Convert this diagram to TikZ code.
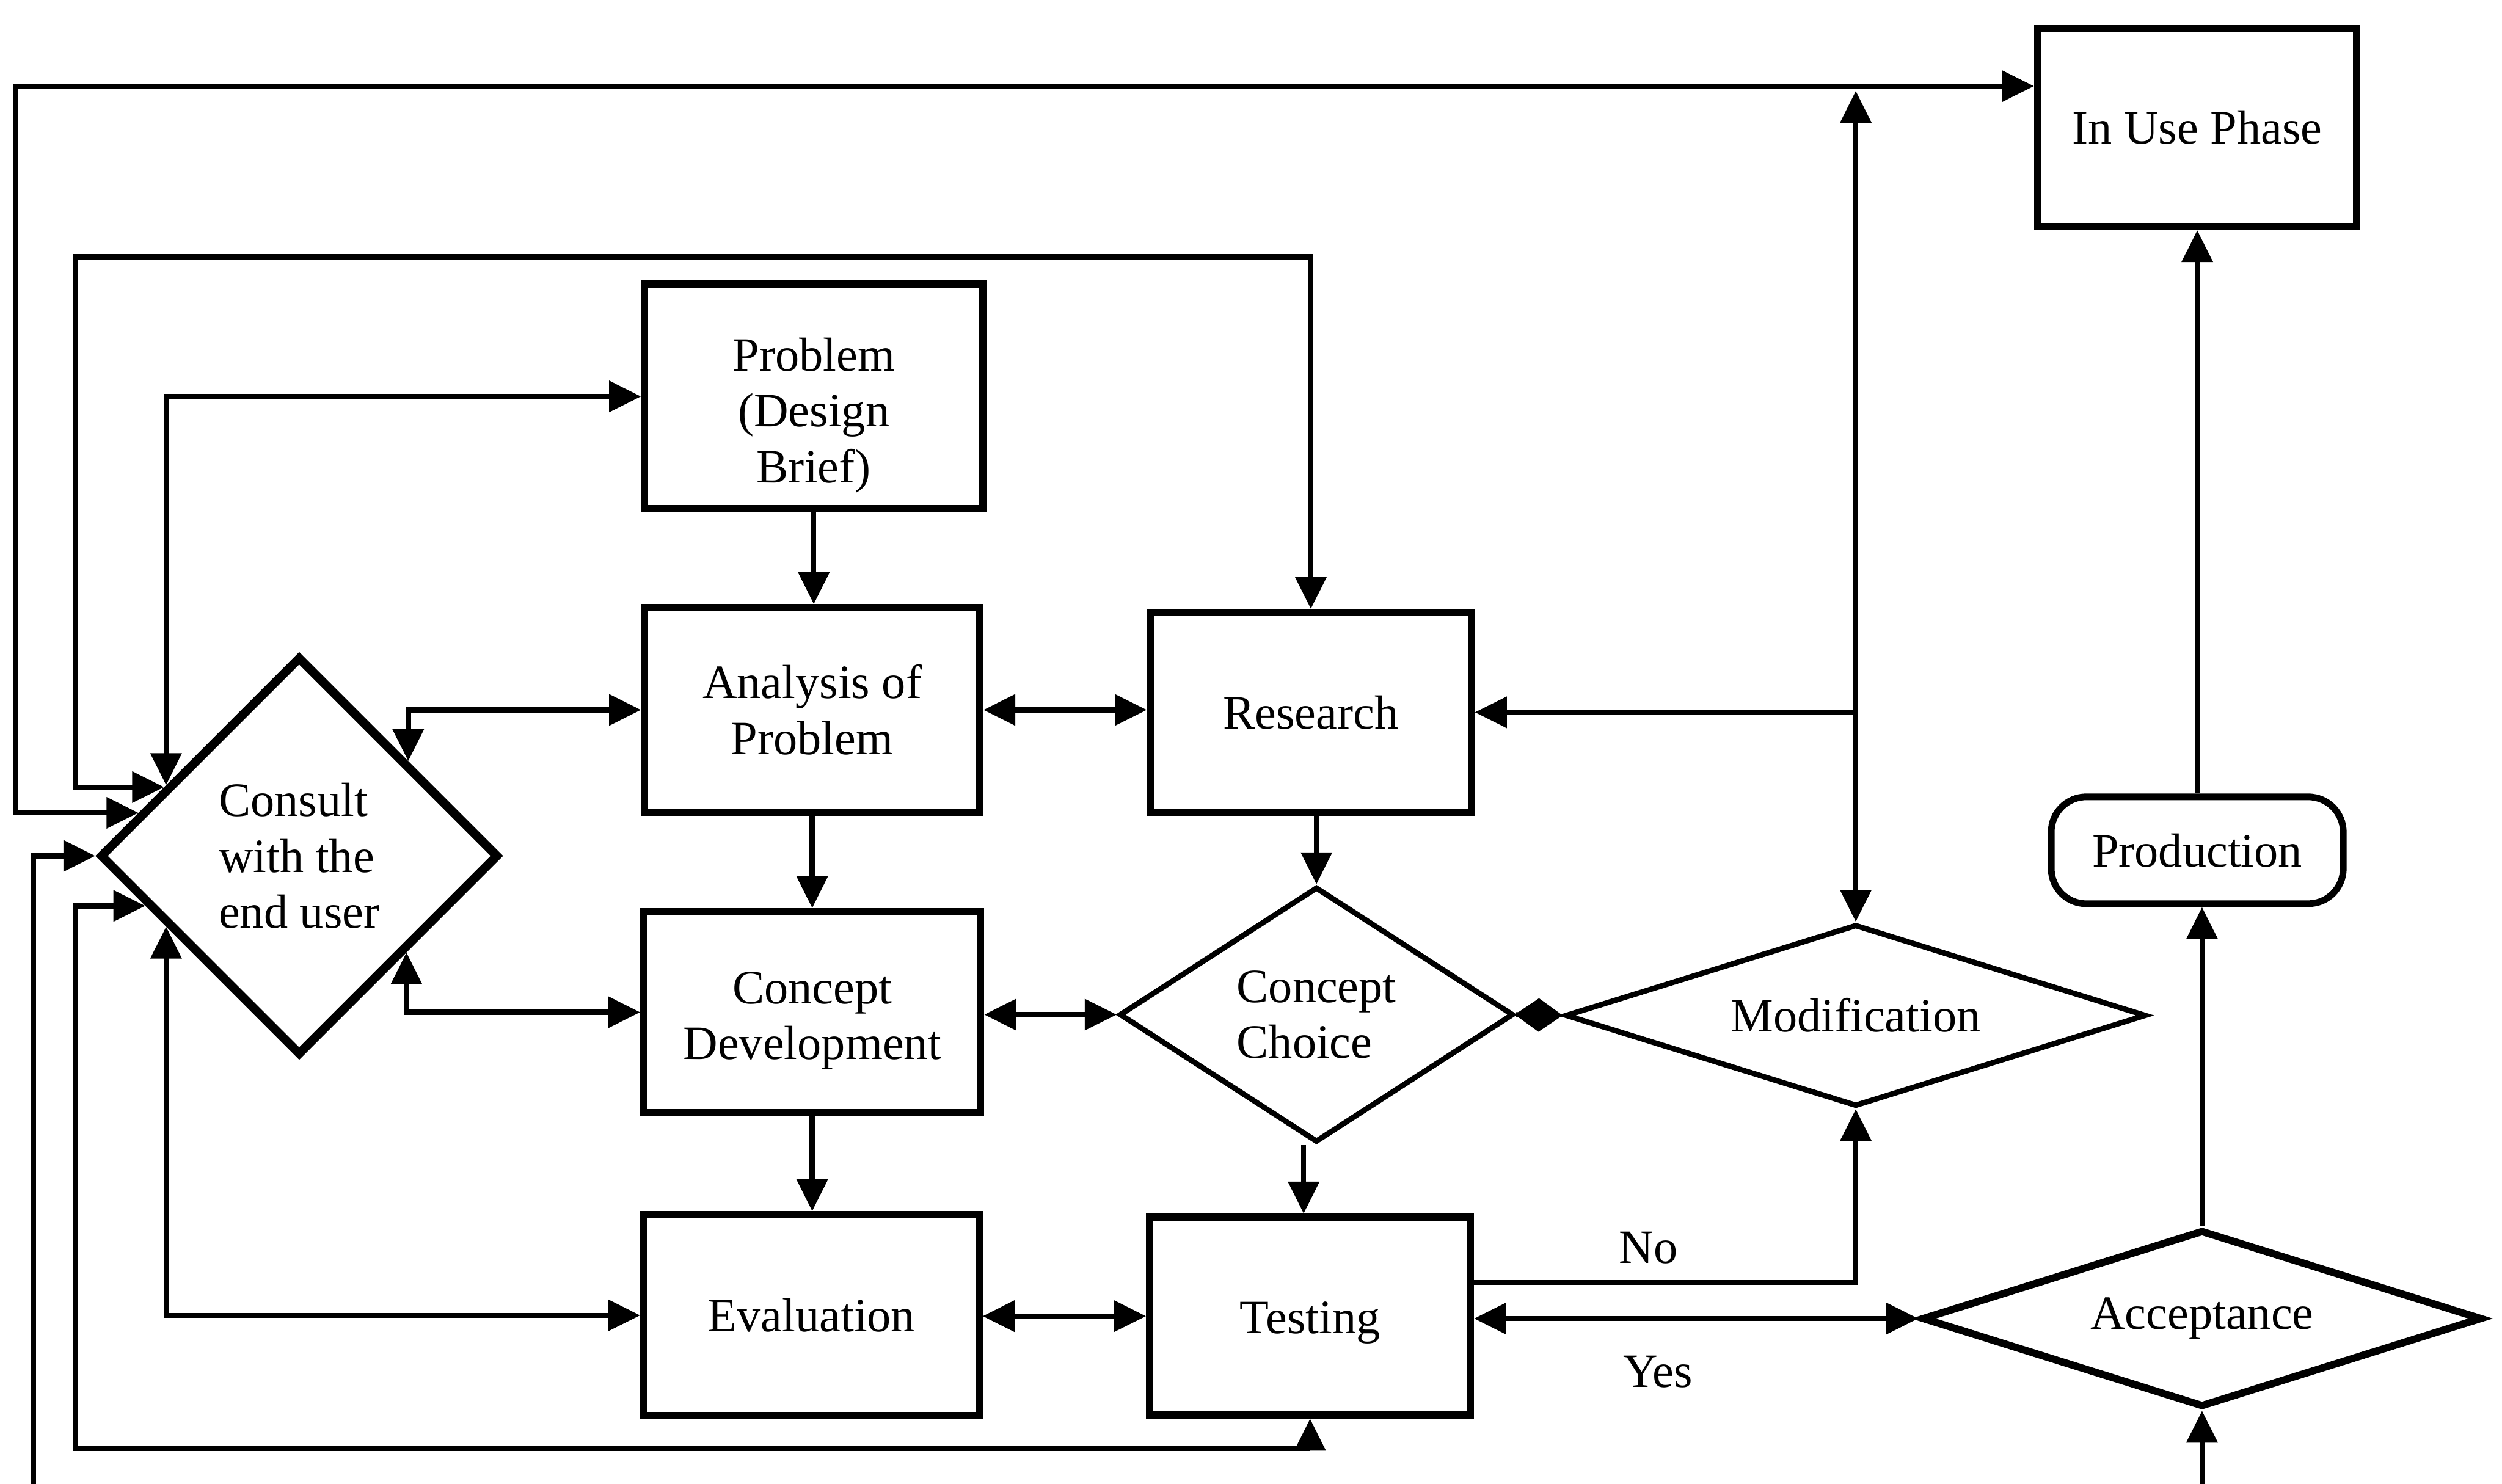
\documentclass[tikz,border=0pt]{standalone}
\usepackage{fontspec}
\setmainfont{Liberation Serif}
\usetikzlibrary{arrows.meta,shapes.geometric}
\begin{document}
\begin{tikzpicture}[x=1pt,y=-1pt,
  >={Triangle[length=20pt,width=19pt]},
  every node/.style={font=\fontsize{30}{35}\selectfont, align=center, inner sep=0pt},
  box/.style={draw, rectangle, line width=4.6pt},
  dia/.style={draw, diamond, line width=3.4pt},
  conn/.style={line width=3.2pt},
]
\useasboundingbox (0,0) rectangle (1568,930);

% process boxes
\node[box, minimum width=212pt, minimum height=141pt] (prob) at (510,248.5)
  {\raisebox{-12pt}[\height][\depth]{\begin{tabular}{@{}c@{}}Problem\\(Design\\Brief)\end{tabular}}};
\node[box, minimum width=210pt, minimum height=128pt] (anal) at (509,445) {Analysis of\\Problem};
\node[box, minimum width=201pt, minimum height=125pt] (res) at (821.5,446.5) {Research};
\node[box, minimum width=211pt, minimum height=126pt] (cdev) at (509,634.5)
  {\raisebox{-5pt}[\height][\depth]{\begin{tabular}{@{}c@{}}Concept\\Development\end{tabular}}};
\node[box, minimum width=210pt, minimum height=126pt] (eval) at (508.5,824.5) {Evaluation};
\node[box, minimum width=201pt, minimum height=124pt] (test) at (821,825) {\raisebox{-4pt}[\height][\depth]{Testing}};
\node[box, minimum width=200pt, minimum height=124pt] (inuse) at (1377,80) {In Use Phase};
\node[box, rounded corners=22pt, line width=4.2pt, minimum width=183pt, minimum height=67pt] (prod) at (1377,533) {Production};

% decisions
\node[dia, line width=5.5pt, minimum width=250pt, minimum height=250pt, align=left] (consult) at (187.5,536.5) {Consult\\with the\\end user};
\node[dia, shape aspect=1.54, minimum width=247pt, minimum height=160pt, align=left] (choice) at (825,636) {Concept\\Choice};
\node[dia, shape aspect=3.2, minimum width=364pt, minimum height=114pt] (modif) at (1163,636.5) {Modification};
\node[dia, shape aspect=3.16, line width=4.6pt, minimum width=351pt, minimum height=111pt] (accept) at (1380,826.5) {Acceptance};

% branch labels
\node (no) at (1033,782) {No};
\node (yes) at (1039,860) {Yes};

% rail corners of the feedback loops
\coordinate (railA) at (10,54);
\coordinate (railB) at (47,161);
\coordinate (railC) at (47,908);
\coordinate (railD) at (21,940);

% main flow
\draw[conn,->] (prob.south) -- (prob.south |- anal.north);
\draw[conn,->] (anal.south) -- (anal.south |- cdev.north);
\draw[conn,->] (cdev.south) -- (cdev.south |- eval.north);
\draw[conn,<->] (anal.east) -- (anal.east -| res.west);
\draw[conn,->] (res.south -| choice.north) -- (choice.north);
\draw[conn,<->] (cdev.east |- choice.west) -- (choice.west);
\draw[conn,->] ([xshift=-8pt]choice.south) -- ([xshift=-8pt]choice.south |- test.north);
\draw[conn,<->] (eval.east |- test.west) -- (test.west);
\draw[conn,-{Diamond[length=30pt,width=21pt]}] (choice.east) -- (modif.west);

% modification and acceptance paths
\draw[conn,<->] (modif.north) -- (modif.north |- 0,57);
\draw[conn,->] (modif.north |- res.east) -- (res.east);
\draw[conn,->] (test.east |- 0,804) -| (modif.south);
\draw[conn,<->] (test.east |- accept.west) -- (accept.west);
\draw[conn,->] (accept.north) -- (accept.north |- prod.south);
\draw[conn,->] (prod.north) -- (inuse.south);

% consultation loops
\draw[conn,<->] (consult.165) -| (railA) -- (railA -| inuse.west);
\draw[conn,<->] (consult.153) -| (railB) -| (res.north);
\draw[conn,<->] (consult.198) -| (railC) -| (test.south);
\draw[conn,<->] (consult.180) -| (railD) -| (accept.south);
\draw[conn,<->] (consult.152) |- (prob.west);
\draw[conn,<->] (consult.208) |- (eval.west);
\draw[conn,<->] (consult.41) |- (anal.west);
\draw[conn,<->] (consult.318) |- (cdev.west);
\end{tikzpicture}
\end{document}
